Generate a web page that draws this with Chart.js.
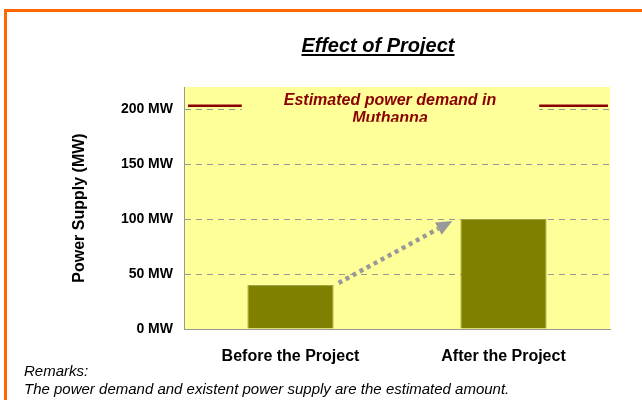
<!DOCTYPE html>
<html>
<head>
<meta charset="utf-8">
<script src="https://cdn.jsdelivr.net/npm/chart.js@4/dist/chart.umd.min.js"></script>
<style>
  body { margin: 0; background: #ffffff; }
  #wrap { width: 642px; height: 400px; position: relative; }
</style>
</head>
<body>
<div id="wrap"><canvas id="myChart" width="642" height="400"></canvas></div>
<script>
// dados
const categorias = ['Before the Project', 'After the Project'];
const potencia = [40, 100];
const demanda = 203;
const yTicks = [0, 50, 100, 150, 200];
const titulo = 'Effect of Project';
const textoDemanda = ['Estimated power demand in', 'Muthanna'];
const notas = ['Remarks:', 'The power demand and existent power supply are the estimated amount.'];

const fonte = '"Liberation Sans", Arial, sans-serif';

const fundo = {
    id: 'fundo',
    beforeDraw(chart) {
        const ctx = chart.ctx;
        const a = chart.chartArea;
        ctx.save();
        ctx.fillStyle = '#ffffff';
        ctx.fillRect(0, 0, chart.width, chart.height);
        // moldura laranja
        ctx.strokeStyle = '#ff6600';
        ctx.lineWidth = 3;
        ctx.beginPath();
        ctx.moveTo(5.5, 400);
        ctx.lineTo(5.5, 10.5);
        ctx.lineTo(642, 10.5);
        ctx.stroke();
        // area do grafico
        ctx.fillStyle = '#ffff99';
        ctx.fillRect(a.left, a.top, a.right - a.left, a.bottom - a.top);
        ctx.restore();
    },
    afterDatasetsDraw(chart) {
        const ctx = chart.ctx;
        const a = chart.chartArea;
        const y = chart.scales.y;
        const meta = chart.getDatasetMeta(0);
        ctx.save();

        // seta pontilhada
        const b0 = meta.data[0], b1 = meta.data[1];
        const x1 = b0.x + b0.width / 2 + 5, y1 = b0.y - 2;
        const x2 = b1.x - b1.width / 2 - 8, y2 = b1.y + 2;
        const ang = Math.atan2(y2 - y1, x2 - x1);
        const cab = 16;
        ctx.strokeStyle = '#999999';
        ctx.fillStyle = '#999999';
        ctx.lineWidth = 4.5;
        ctx.setLineDash([4, 4]);
        ctx.beginPath();
        ctx.moveTo(x1, y1);
        ctx.lineTo(x2 - Math.cos(ang) * cab, y2 - Math.sin(ang) * cab);
        ctx.stroke();
        ctx.setLineDash([]);
        ctx.beginPath();
        ctx.moveTo(x2, y2);
        ctx.lineTo(x2 - Math.cos(ang) * cab - Math.sin(ang) * 7, y2 - Math.sin(ang) * cab + Math.cos(ang) * 7);
        ctx.lineTo(x2 - Math.cos(ang) * cab + Math.sin(ang) * 7, y2 - Math.sin(ang) * cab - Math.cos(ang) * 7);
        ctx.closePath();
        ctx.fill();

        // demanda estimada
        const yd = y.getPixelForValue(demanda);
        ctx.font = 'italic bold 16px ' + fonte;
        const cx = 390;
        const w = ctx.measureText(textoDemanda[0]).width;
        const gapL = cx - w / 2 - 42, gapR = cx + w / 2 + 43;
        ctx.fillStyle = '#ffff99';
        ctx.fillRect(gapL, yd - 14, gapR - gapL, 30);
        ctx.strokeStyle = '#8b0000';
        ctx.lineWidth = 2.5;
        ctx.beginPath();
        ctx.moveTo(a.left + 4, yd);
        ctx.lineTo(gapL, yd);
        ctx.moveTo(gapR, yd);
        ctx.lineTo(a.right - 2, yd);
        ctx.stroke();
        ctx.beginPath();
        ctx.rect(gapL, yd - 14, gapR - gapL, 30);
        ctx.clip();
        ctx.fillStyle = '#8b0000';
        ctx.textAlign = 'center';
        ctx.textBaseline = 'middle';
        ctx.fillText(textoDemanda[0], cx, yd - 5);
        ctx.fillText(textoDemanda[1], cx, yd + 13);
        ctx.restore();
    },
    afterDraw(chart) {
        const ctx = chart.ctx;
        ctx.save();
        // titulo sublinhado
        ctx.fillStyle = '#000000';
        ctx.font = 'italic bold 20px ' + fonte;
        ctx.textAlign = 'center';
        ctx.textBaseline = 'middle';
        ctx.fillText(titulo, 378, 46);
        const tw = ctx.measureText(titulo).width;
        ctx.fillRect(378 - tw / 2, 54, tw, 2);
        // notas
        ctx.font = 'italic 15px ' + fonte;
        ctx.textAlign = 'left';
        ctx.fillText(notas[0], 24, 372);
        ctx.fillText(notas[1], 24, 390);
        ctx.restore();
    }
};

const data = {
    labels: categorias,
    datasets: [{
        label: 'Power Supply',
        data: potencia,
        backgroundColor: '#808000',
        borderColor: '#a3a347',
        borderWidth: 1,
        barPercentage: 0.405,
        categoryPercentage: 1
    }]
};

const config = {
    type: 'bar',
    data: data,
    plugins: [fundo],
    options: {
        responsive: false,
        animation: false,
        layout: { padding: { top: 87, right: 32, left: 66, bottom: 0 } },
        plugins: {
            legend: { display: false },
            tooltip: { enabled: false }
        },
        scales: {
            x: {
                grid: { display: false },
                border: { display: true, color: '#999999', width: 1 },
                ticks: {
                    color: '#000000',
                    padding: 10,
                    font: { family: fonte, size: 16, weight: 'bold' }
                },
                afterFit(scale) { scale.height = 71; }
            },
            y: {
                min: 0,
                max: 220,
                afterBuildTicks(scale) {
                    scale.ticks = yTicks.map(v => ({ value: v }));
                },
                grid: {
                    drawTicks: false,
                    color: ctx => ctx.tick && ctx.tick.value === 0 ? 'rgba(0,0,0,0)' : '#999999',
                    lineWidth: 1
                },
                border: { display: true, color: '#999999', width: 1, dash: [6, 5] },
                ticks: {
                    color: '#000000',
                    padding: 11,
                    callback: v => v + ' MW',
                    font: { family: fonte, size: 14, weight: 'bold' }
                },
                title: {
                    display: true,
                    text: 'Power Supply (MW)',
                    color: '#000000',
                    font: { family: fonte, size: 16, weight: 'bold' }
                },
                afterFit(scale) { scale.width = 118; }
            }
        }
    }
};

const myChart = new Chart(document.getElementById('myChart'), config);
</script>
</body>
</html>
